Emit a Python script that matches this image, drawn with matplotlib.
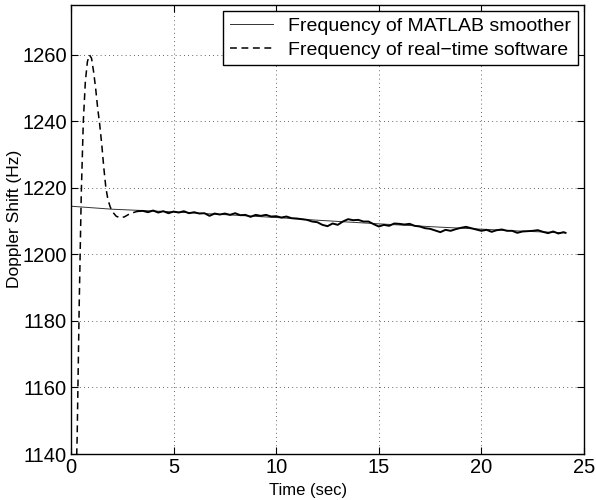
import matplotlib
matplotlib.use("Agg")
import matplotlib.pyplot as plt

plt.rcParams['font.family'] = ['Liberation Sans', 'DejaVu Sans']

# MATLAB smoother frequency (Hz)
t_smooth = [0.0, 2.0, 5.0, 8.0, 10.0, 12.0, 15.0, 18.0, 20.0, 22.0, 24.1]
f_smooth = [1214.5, 1213.6, 1212.8, 1211.8, 1211.1, 1210.3, 1209.2, 1208.2, 1207.6, 1207.0, 1206.5]

# Real-time software frequency (Hz)
t_rt = [0.2, 0.3, 0.4, 0.5, 0.6, 0.7, 0.8, 0.9, 1.0, 1.1, 1.2, 1.3, 1.4, 1.5, 1.6,
        1.7, 1.8, 1.9, 2.0, 2.2, 2.4, 2.6, 2.8, 3.0, 3.25,
        3.5, 3.75, 4.0, 4.25, 4.5, 4.75, 5.0, 5.25, 5.5, 5.75, 6.0, 6.25, 6.5, 6.75,
        7.0, 7.25, 7.5, 7.75, 8.0, 8.25, 8.5, 8.75, 9.0, 9.25, 9.5, 9.75, 10.0, 10.25,
        10.5, 10.75, 11.0, 11.25, 11.5, 11.75, 12.0, 12.25, 12.5, 12.75, 13.0, 13.25,
        13.5, 13.75, 14.0, 14.25, 14.5, 14.75, 15.0, 15.25, 15.5, 15.75, 16.0, 16.25,
        16.5, 16.75, 17.0, 17.25, 17.5, 17.75, 18.0, 18.25, 18.5, 18.75, 19.0, 19.25,
        19.5, 19.75, 20.0, 20.25, 20.5, 20.75, 21.0, 21.25, 21.5, 21.75, 22.0, 22.25,
        22.5, 22.75, 23.0, 23.25, 23.5, 23.75, 24.0, 24.1]
f_rt = [1120.0, 1145.0, 1185.0, 1218.0, 1240.0, 1252.0, 1258.0, 1260.0, 1259.0, 1255.0,
        1250.0, 1244.0, 1239.0, 1233.0, 1226.0, 1220.0, 1216.5, 1214.5, 1213.0, 1211.5,
        1211.0, 1211.3, 1212.0, 1212.5, 1213.0,
        1213.1, 1212.7, 1213.2, 1212.6, 1213.0, 1212.4, 1212.9, 1212.6, 1213.0, 1212.4,
        1212.7, 1212.3, 1212.4, 1211.6, 1212.3, 1212.0, 1212.3, 1211.9, 1212.4, 1211.8,
        1211.9, 1211.3, 1211.9, 1211.6, 1211.9, 1211.4, 1211.5, 1211.1, 1211.4, 1210.9,
        1210.8, 1210.6, 1210.4, 1209.9, 1209.7, 1208.9, 1208.5, 1209.3, 1208.9, 1209.9,
        1210.6, 1210.3, 1210.4, 1209.9, 1209.9, 1209.1, 1208.4, 1208.9, 1208.6, 1209.3,
        1209.2, 1209.0, 1209.2, 1208.6, 1208.4, 1207.9, 1207.7, 1207.2, 1206.7, 1207.4,
        1207.1, 1207.6, 1208.0, 1208.3, 1207.9, 1207.5, 1207.1, 1207.4, 1206.8, 1207.3,
        1207.5, 1207.1, 1207.1, 1206.5, 1206.9, 1207.0, 1207.1, 1207.3, 1206.8, 1206.4,
        1206.9, 1206.3, 1206.7, 1206.5]

x_ticks = [0, 5, 10, 15, 20, 25]
y_ticks = [1140, 1160, 1180, 1200, 1220, 1240, 1260]

fig = plt.figure(figsize=(5.96, 5.0), dpi=100)
ax = fig.add_axes([71/596, 1 - 454/500, (584 - 71)/596, (454 - 5)/500])

ax.plot(t_smooth, f_smooth, color='#333333', lw=0.7, label='Frequency of MATLAB smoother')
split = 24
ax.plot(t_rt[:split + 1], f_rt[:split + 1], color='black', lw=1.1, ls=(0, (4.5, 3)),
        label='Frequency of real\u2212time software')
ax.plot(t_rt[split:], f_rt[split:], color='black', lw=1.4, ls='-')

ax.set_xlim(0, 25)
ax.set_ylim(1140, 1275)
ax.set_xticks(x_ticks)
ax.set_yticks(y_ticks)
ax.tick_params(direction='in', top=True, right=True, labelsize=14.5, length=5, width=0.8, pad=3)
ax.grid(True, color='black', ls=(0, (1, 4)), lw=0.6, alpha=0.8)
for s in ax.spines.values():
    s.set_linewidth(1.0)

ax.set_xlabel('Time (sec)', fontsize=12)
ax.xaxis.set_label_coords((308 - 71) / (584 - 71), -(491 - 454) / (454 - 5), transform=ax.transAxes)
ax.xaxis.label.set_va('center')
ax.set_ylabel('Doppler Shift (Hz)', fontsize=12.5)
ax.yaxis.set_label_coords(-(71 - 15) / (584 - 71), (454 - 219) / (454 - 5), transform=ax.transAxes)
ax.yaxis.label.set_va('center')

leg = ax.legend(loc='upper right', fontsize=14, frameon=True, fancybox=False,
                edgecolor='black', framealpha=1, borderaxespad=0.3, handlelength=2.2,
                borderpad=0.35, labelspacing=0.3, handletextpad=0.8)
leg.get_frame().set_linewidth(1.0)

fig.savefig('out.png', dpi=100)
